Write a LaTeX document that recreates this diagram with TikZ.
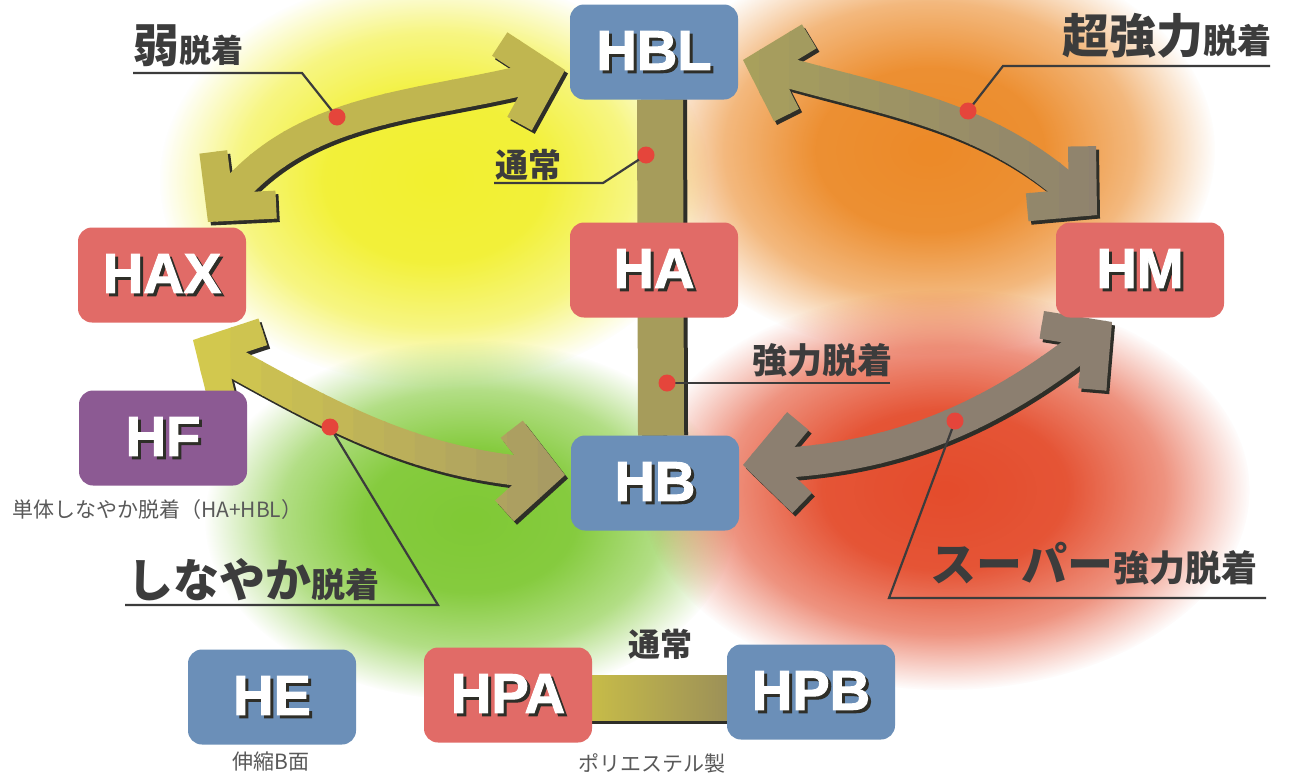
\documentclass[tikz,border=0pt]{standalone}
\usepackage{fontspec}
\setmainfont{Liberation Sans}
\newfontfamily\jp{Noto Sans CJK JP}
\newfontface\boxfont{Liberation Sans Bold}[FakeBold=1.8]
\usetikzlibrary{arrows.meta,fadings}
\definecolor{blueb}{HTML}{6B8FB8}
\definecolor{redb}{HTML}{E16B67}
\definecolor{purpb}{HTML}{8C5A93}
\definecolor{shadowc}{HTML}{2E2E28}
\definecolor{txtc}{HTML}{3C3C3C}
\definecolor{dotc}{HTML}{E5453B}
\definecolor{olvA}{HTML}{C0B650}
\definecolor{olvB}{HTML}{A8A05C}
\definecolor{brn}{HTML}{8C7F70}
\definecolor{yelA}{HTML}{D6CC4C}
\definecolor{olvC}{HTML}{A49765}
\definecolor{barc}{HTML}{A69C5B}
\definecolor{barL}{HTML}{C7BC48}
\definecolor{barR}{HTML}{9C9058}
\definecolor{blobY}{HTML}{F2F030}
\definecolor{blobG}{HTML}{80C935}
\definecolor{blobO}{HTML}{EC8A28}
\definecolor{blobR}{HTML}{E44C2C}
\pgfdeclareradialshading{blobmask}{\pgfpointorigin}{color(0bp)=(white); color(10bp)=(white!95!black); color(18bp)=(white!60!black); color(25bp)=(black); color(50bp)=(black)}
\pgfdeclarefading{blob}{\pgfuseshading{blobmask}}
\newcommand\blbl[1]{\rlap{\kern3pt\raisebox{-3pt}{\textcolor{shadowc}{#1}}}\textcolor{white}{#1}}
\tikzset{
  box/.style={rounded corners=14pt, minimum width=168pt, minimum height=95pt, inner sep=0pt, outer sep=0pt, font=\boxfont\fontsize{56}{56}\selectfont},
  bigarrow/.style={line width=30pt, {Straight Barb[length=38pt,width=82pt,line width=28pt]}-{Straight Barb[length=38pt,width=82pt,line width=28pt]}},
  leader/.style={draw=txtc, line width=2.2pt},
  dot/.style={circle, fill=dotc, minimum size=17pt, inner sep=0pt},
  biglab/.style={anchor=base west, inner sep=0pt, text=txtc, font=\jp\bfseries},
  smalllab/.style={anchor=base west, inner sep=0pt, text=black!65, font=\jp\fontsize{21}{21}\selectfont},
}
% gradient arrow: #1 start, #2 out, #3 in, #4 end, #5 start colour, #6 end colour, #7 x0, #8 x1
\newcommand\garrow[8]{%
  \begin{scope}[transform canvas={shift={(3,3.5)}}]
    \draw[bigarrow, shadowc] #1 to[out=#2,in=#3] #4;
  \end{scope}
  \foreach \i in {0,...,13}{%
    \pgfmathtruncatemacro\pc{100-\i*100/13}%
    \colorlet{tmpc}{#5!\pc!#6}%
    \begin{scope}
      \clip ({#7+(#8-#7)*\i/14-0.8}, -10) rectangle ({#7+(#8-#7)*(\i+1)/14+0.8}, 790);
      \draw[bigarrow, tmpc] #1 to[out=#2,in=#3] #4;
    \end{scope}
  }%
}
\begin{document}
\begin{tikzpicture}[x=1pt,y=-1pt]
\useasboundingbox (0,0) rectangle (1292,779);
\fill[white] (0,0) rectangle (1292,779);
% background blobs
\fill[blobY, path fading=blob] (435,180) ellipse [x radius=275, y radius=205];
\fill[blobG, path fading=blob] (470,520) ellipse [x radius=265, y radius=180];
\fill[blobO, path fading=blob] (930,150) ellipse [x radius=285, y radius=205];
\fill[blobR, path fading=blob] (945,490) ellipse [x radius=305, y radius=200];

% nodes (placed first so connectors can use them; drawn again on top)
\path
  (654,52)   node[box] (HBL) {}
  (654,270)  node[box] (HA)  {}
  (655,483)  node[box] (HB)  {}
  (162,275)  node[box] (HAX) {}
  (163,438)  node[box] (HF)  {}
  (1140,270) node[box] (HM)  {}
  (272,697)  node[box] (HE)  {}
  (508,695)  node[box] (HPA) {}
  (811,692)  node[box] (HPB) {};

% vertical bar HBL - HB
\draw[line width=46pt, shadowc] ([xshift=10pt]HBL.south) -- ([xshift=10pt]HB.north);
\draw[line width=46pt, barc] ([xshift=6pt]HBL.south) -- ([xshift=6pt]HB.north);
% horizontal bar HPA - HPB
\fill[shadowc] ([shift={(-2,-20)}]HPA.east) rectangle ([shift={(2,32)}]HPB.west);
\shade[left color=barL, right color=barR] ([shift={(-2,-20)}]HPA.east) rectangle ([shift={(2,28)}]HPB.west);

% curved double arrows (out/in angles are canvas angles)
\garrow{([shift={(46,-53)}]HAX.center)}{50}{-166}{([shift={(-89,18)}]HBL.center)}{olvA}{olvA}{150}{620}
\garrow{([shift={(89,8)}]HBL.center)}{-16}{138}{([shift={(-43,-55)}]HM.center)}{olvB}{brn}{730}{1150}
\garrow{([shift={(31,65)}]HAX.center)}{-29}{175}{([shift={(-90,-8)}]HB.center)}{yelA}{olvC}{170}{600}
\garrow{([shift={(88,-18)}]HB.center)}{3}{-142}{([shift={(-28,52)}]HM.center)}{brn}{brn}{720}{1170}

% boxes
\node[box, fill=blueb] at (HBL) {\blbl{HBL}};
\node[box, fill=redb]  at (HA)  {\blbl{HA}};
\node[box, fill=blueb] at (HB)  {\blbl{HB}};
\node[box, fill=redb]  at (HAX) {\blbl{HAX}};
\node[box, fill=purpb] at (HF)  {\blbl{HF}};
\node[box, fill=redb]  at (HM)  {\blbl{HM}};
\node[box, fill=blueb] at (HE)  {\blbl{HE}};
\node[box, fill=redb]  at (HPA) {\blbl{HPA}};
\node[box, fill=blueb] at (HPB) {\blbl{HPB}};

% labels
\node[biglab] (L1) at (133,62) {{\fontsize{46}{46}\selectfont 弱}{\fontsize{32}{32}\selectfont 脱着}};
\node[biglab] (L2) at (495,177) {\fontsize{33}{33}\selectfont 通常};
\node[biglab] (L3) at (1062,53) {{\fontsize{47}{47}\selectfont 超強力}{\fontsize{34}{34}\selectfont 脱着}};
\node[biglab] (L4) at (752,373) {\fontsize{35}{35}\selectfont 強力脱着};
\node[biglab] (L5) at (930,581) {{\fontsize{46}{46}\selectfont スーパー}{\fontsize{36}{36}\selectfont 強力脱着}};
\node[biglab] (L6) at (127,597) {{\fontsize{46}{46}\selectfont しなやか}{\fontsize{34}{34}\selectfont 脱着}};
\node[biglab] (L7) at (628,656) {\fontsize{32}{32}\selectfont 通常};
\node[smalllab] (S1) at (12,517) {単体しなやか脱着（HA+HBL）};
\node[smalllab] (S2) at (232,769) {伸縮B面};
\node[smalllab] (S3) at (578,771) {ポリエステル製};

% leader lines and dots
\coordinate (D1) at (337,117);
\coordinate (D2) at (646,155);
\coordinate (D3) at (968,111);
\coordinate (D4) at (667,383);
\coordinate (D5) at (955,421);
\coordinate (D6) at (330,427);
\coordinate (U1a) at (133,73);  \coordinate (U1b) at (302,73);
\coordinate (U2a) at (494,183); \coordinate (U2b) at (603,183);
\coordinate (U3a) at (1270,66); \coordinate (U3b) at (1003,66);
\coordinate (U4a) at (890,383);
\coordinate (U5a) at (1266,598); \coordinate (U5b) at (889,598);
\coordinate (U6a) at (125,605); \coordinate (U6b) at (438,605);
\draw[leader] (U1a) -- (U1b) -- (D1);
\draw[leader] (U2a) -- (U2b) -- (D2);
\draw[leader] (U3a) -- (U3b) -- (D3);
\draw[leader] (U4a) -- (D4);
\draw[leader] (U5a) -- (U5b) -- (D5);
\draw[leader] (U6a) -- (U6b) -- (D6);
\foreach \d in {D1,D2,D3,D4,D5,D6} \node[dot] at (\d) {};
\end{tikzpicture}
\end{document}
